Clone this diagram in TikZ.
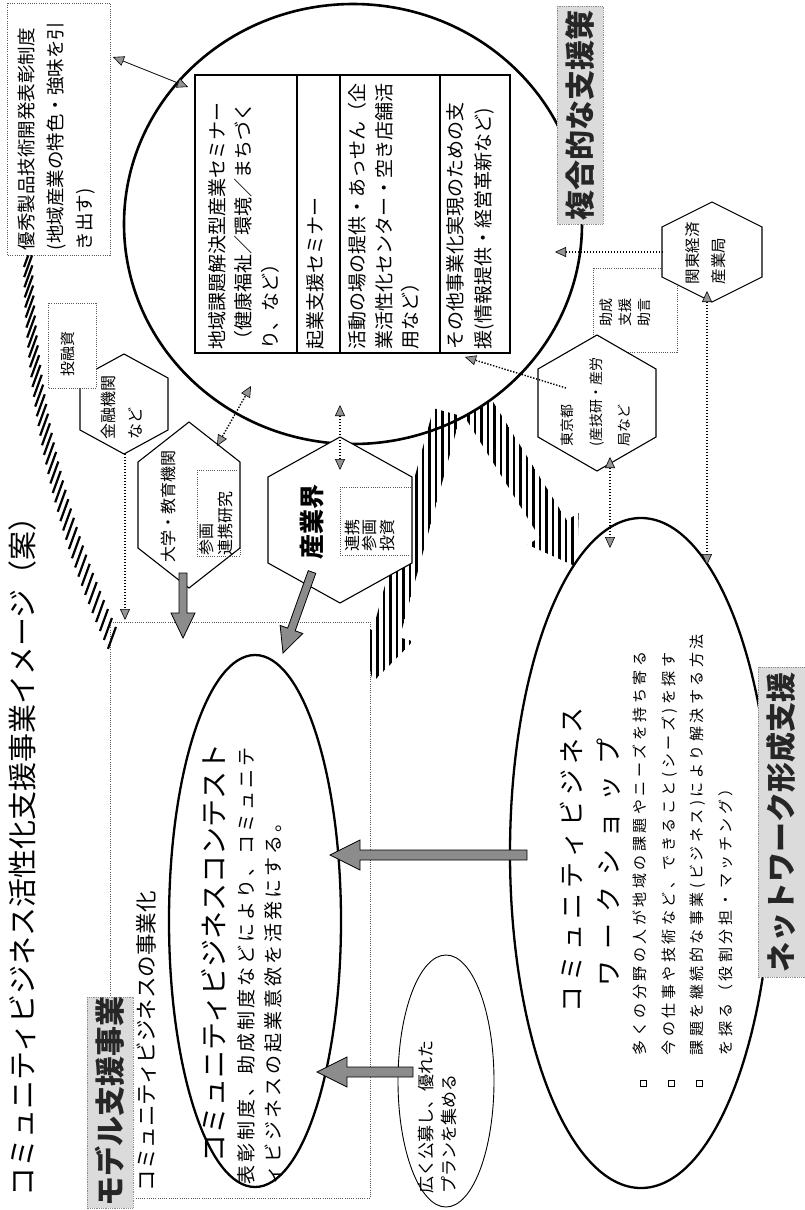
\documentclass[tikz,border=0pt]{standalone}
\usepackage{fontspec}
\setmainfont{Noto Sans CJK JP}
\usetikzlibrary{arrows.meta,calc,shapes.geometric}
\newcommand\fz[2]{\fontsize{#1}{#2}\selectfont}
\makeatletter
\newcommand\ls[2]{\def\ls@k{#1}\ls@loop#2\relax}
\def\ls@loop#1{\ifx\relax#1\else#1\hskip\ls@k\relax\expandafter\ls@loop\fi}
\makeatother
\newcommand\hexa[6]{%
  \coordinate (#1) at (#2,#3);
  \draw[hexline] ($(#1)+(0,-#5)$) -- ($(#1)+(#4,-#6)$) -- ($(#1)+(#4,#6)$) -- ($(#1)+(0,#5)$) -- ($(#1)+(-#4,#6)$) -- ($(#1)+(-#4,-#6)$) -- cycle;}
\newcommand\bigarr[5]{%
  \coordinate (hb) at ($(#2)!#5!(#1)$);
  \filldraw[bigarrow] ($(#1)!#3!90:(#2)$) -- ($(hb)!#3!-90:(#1)$) -- ($(hb)!#4!-90:(#1)$) -- (#2) -- ($(hb)!#4!90:(#1)$) -- ($(hb)!#3!90:(#1)$) -- ($(#1)!#3!-90:(#2)$) -- cycle;}
\begin{document}
\begin{tikzpicture}[x=1pt,y=-1pt,
  every node/.style={inner sep=0pt, outer sep=0pt},
  tv/.style={rotate=90, anchor=north west, align=left},
  tcn/.style={rotate=90, anchor=center, align=center},
  dotbox/.style={draw=black!65, line width=0.7pt, dash pattern=on 0.9pt off 1.3pt},
  hexline/.style={draw=black, line width=1.1pt, fill=white},
  dotcon/.style={draw=black, line width=1.4pt, dash pattern=on 1.4pt off 1.6pt},
  gt/.tip={Triangle[length=11pt, width=10pt, fill=black!42, line width=0.6pt]},
  bigarrow/.style={fill=black!45, draw=black, line width=0.8pt},
  labbox/.style={fill=black!14, draw=black!45, line width=0.6pt, dash pattern=on 0.8pt off 1pt},
  labtext/.style={rotate=90, font=\fz{30}{30}\bfseries, text=black!85},
  hatch/.style={line width=2.6pt, black}
]
\fill[white] (0,0) rectangle (804,1210);
\useasboundingbox (0,0) rectangle (804,1210);

% model area rectangle
\coordinate (mrNW) at (110,622); \coordinate (mrNE) at (370,622);
\coordinate (mrSE) at (370,1198); \coordinate (mrSW) at (110,1198);
\draw[dotbox] (mrSW) -- (mrNW) -- (mrNE) -- (mrSE) -- cycle;

% ellipses and circle
\node[ellipse, draw, line width=2.3pt, minimum width=172pt, minimum height=532pt] (contest) at (255,921) {};
\node[ellipse, draw, line width=2.3pt, minimum width=262pt, minimum height=670pt] (network) at (641,853) {};
\node[ellipse, draw, line width=0.9pt, minimum width=96pt, minimum height=252pt] (koubo) at (446,1081) {};
\node[ellipse, draw, line width=2.6pt, minimum width=458pt, minimum height=440pt] (circ) at (353,224) {};

% hatched arrow A (circle -> model area)
\begin{scope}
  \clip (433.5,408.3) -- (460.5,415.7) -- (399.7,637.5) -- (413.2,641.2) -- (373,682) -- (359.2,626.4) -- (372.7,630.1) -- cycle;
  \foreach \xx in {371,377.5,...,470} \draw[hatch] (\xx,395) -- (\xx,700);
\end{scope}
% hatched arrow B (circle -> network)
\begin{scope}
  \clip (464.4,416.5) -- (539.6,537.3) -- (527.7,544.7) -- (577,567) -- (578.7,512.9) -- (566.8,520.3) -- (491.6,399.5) -- cycle;
  \foreach \xx in {462,468.5,...,590} \draw[hatch] (\xx,390) -- (\xx,580);
\end{scope}
% hatched band C
\foreach \t in {0,0.025,...,1.001} {
  \pgfmathsetmacro\px{(1-\t)^2*28 + 2*(1-\t)*\t*30 + \t^2*112}
  \pgfmathsetmacro\py{(1-\t)^2*256 + 2*(1-\t)*\t*460 + \t^2*638}
  \draw[line width=2.2pt] (\px-4,\py+11) -- (\px+4,\py-11);
}

% table
\node[draw, line width=1.3pt, fill=white, minimum width=315pt, minimum height=278pt, anchor=north west] (table) at (195,75) {};
\draw[line width=1.1pt] (297,75) -- (297,353) (340,75) -- (340,353) (440,75) -- (440,353);
\node[tv, font=\fz{19}{26.5}] (t1) at (208.5,349) {地域課題解決型産業セミナー\\（健康福祉／環境／まちづく\\り、など）};
\node[tv, font=\fz{19}{26.5}] (t2) at (306.5,349) {起業支援セミナー};
\node[tv, font=\fz{19}{26.5}] (t3) at (348.5,349) {活動の場の提供・あっせん（企\\業活性化センター・空き店舗活\\用など）};
\node[tv, font=\fz{19}{28}] (t4) at (446.5,349) {その他事業化実現のための支\\援(情報提供・経営革新など)};

% excellent product box
\draw[dotbox, fill=white] (7,3) rectangle (110,255);
\node[tv, font=\fz{18.5}{29}] (yuushu) at (18,250) {優秀製品技術開発表彰制度\\(地域産業の特色・強味を引\\き出す)};

% help box behind hexagons
\draw[dotbox] (593,268) rectangle (677,352);
\node[tv, font=\fz{14}{19}] (josei) at (600,326) {助成\\支援\\助言};

% hexagons
\hexa{kin}{124}{404}{44}{50}{26}
\hexa{dai}{189}{505}{51}{83}{43}
\hexa{san}{340}{520}{72}{83}{43}
\hexa{tok}{597}{403}{59}{68}{34}
\hexa{kan}{712}{252}{50}{50}{25}

\draw[dotbox, fill=white] (48,303) rectangle (96,388);
\node[tv, font=\fz{15}{15}] (touyuushi) at (61,376) {投融資};
\node[tv, font=\fz{16}{27}] (kintext) at (101,439) {金融機関\\など};
\node[tv, font=\fz{16}{16}] (daitext) at (161,562) {大学・教育機関};
\draw[dotbox] (197,470) rectangle (240,556);
\node[tv, font=\fz{16}{19}] (daibox) at (199,555) {参画\\連携研究};
\node[tv, font=\fz{25}{25}\bfseries] (santext) at (300,559) {産業界};
\draw[dotbox] (340,487) rectangle (412,555);
\node[tv, font=\fz{16}{17.5}] (sanbox) at (345,551) {連携\\参画\\投資};
\node[tv, font=\fz{14}{28.5}] (toktext) at (561,446) {東京都\\(産技研・産労\\局など};
\node[tv, font=\fz{15.5}{26}] (kantext) at (685,284) {関東経済\\産業局};

% title and headings
\node[tv, font=\fz{29}{29}] (title) at (9,1196) {コミュニティビジネス活性化支援事業イメージ（案）};
\node[tv, font=\fz{21.5}{21.5}] (jigyouka) at (136,1191) {コミュニティビジネスの事業化};

% contest text
\node[tv, font=\fz{28}{28}] (contesttitle) at (201,1162) {コミュニティビジネスコンテスト};
\node[tv, font=\fz{19}{27}] (contesttext) at (238,1184) {\ls{3pt}{表彰制度、助成制度などにより、コミュニテ}\\\ls{3pt}{ィビジネスの起業意欲を活発にする。}};
\node[tv, font=\fz{17}{23}] (koubotext) at (418,1193) {広く公募し、優れた\\プランを集める};

% network text
\node[tcn, font=\fz{26}{26}] (nt1) at (571.5,857) {\ls{5pt}{コミュニティビジネス}};
\node[tcn, font=\fz{26}{26}] (nt2) at (608.5,857) {\ls{11pt}{ワークショップ}};
\node[tv, font=\fz{15}{28.5}] (bullets) at (633,1055) {\ls{3.5pt}{多くの分野の人が地域の課題やニーズを持ち寄る}\\\ls{3.5pt}{今の仕事や技術など、できること(シーズ)を探す}\\\ls{3.5pt}{課題を継続的な事業(ビジネス)により解決する方法}\\\ls{3.5pt}{を探る（役割分担・マッチング）}};
\node[draw, line width=0.6pt, minimum size=6pt] (b1) at (643,1083) {};
\node[draw, line width=0.6pt, minimum size=6pt] (b2) at (671,1083) {};
\node[draw, line width=0.6pt, minimum size=6pt] (b3) at (699,1083) {};

% label boxes
\draw[labbox] (87,997) rectangle (133,1208);
\node[labtext] (model) at (110,1101) {モデル支援事業};
\draw[labbox] (557,6) rectangle (603,224);
\node[labtext] (fukugo) at (580,115) {複合的な支援策};
\draw[labbox] (758,667) rectangle (806,977);
\node[labtext] (netlab) at (781,822) {ネットワーク形成支援};

% connectors
\coordinate (yA) at (113,57); \coordinate (yB) at (188,87);
\draw[line width=0.8pt, gt-gt] (yA) -- (yB);
\coordinate (kinB) at (125,454); \coordinate (mrT) at (125,620);
\draw[dotcon, -gt] (kinB) -- (mrT);
\coordinate (daiE) at (217,446); \coordinate (circD) at (251,386);
\draw[dotcon, gt-gt] (daiE) -- (circD);
\coordinate (sanU) at (340,405); \coordinate (sanD) at (340,470);
\draw[dotcon, gt-gt] (sanU) -- (sanD);
\coordinate (tokL) at (566,388); \coordinate (tabBR) at (465,357);
\draw[dotcon, -gt] (tokL) -- (tabBR);
\coordinate (tokB) at (610,457); \coordinate (netT1) at (610,548);
\draw[dotcon, gt-gt] (tokB) -- (netT1);
\coordinate (kanB) at (707,291); \coordinate (netT2) at (707,565);
\draw[dotcon, gt-gt] (kanB) -- (netT2);
\coordinate (kanL) at (663,252); \coordinate (circR) at (555,252);
\draw[dotcon, -gt] (kanL) -- (circR);

% big gray arrows
\coordinate (a1s) at (183,573); \coordinate (a1e) at (183,638);
\bigarr{a1s}{a1e}{4pt}{12pt}{25pt}
\coordinate (a2s) at (312,572); \coordinate (a2e) at (283,653);
\bigarr{a2s}{a2e}{4pt}{12pt}{25pt}
\coordinate (a3s) at (527,855); \coordinate (a3e) at (330,855);
\bigarr{a3s}{a3e}{5pt}{15pt}{30pt}
\coordinate (a4s) at (413,1072); \coordinate (a4e) at (317,1072);
\bigarr{a4s}{a4e}{5pt}{15pt}{30pt}
\end{tikzpicture}
\end{document}
